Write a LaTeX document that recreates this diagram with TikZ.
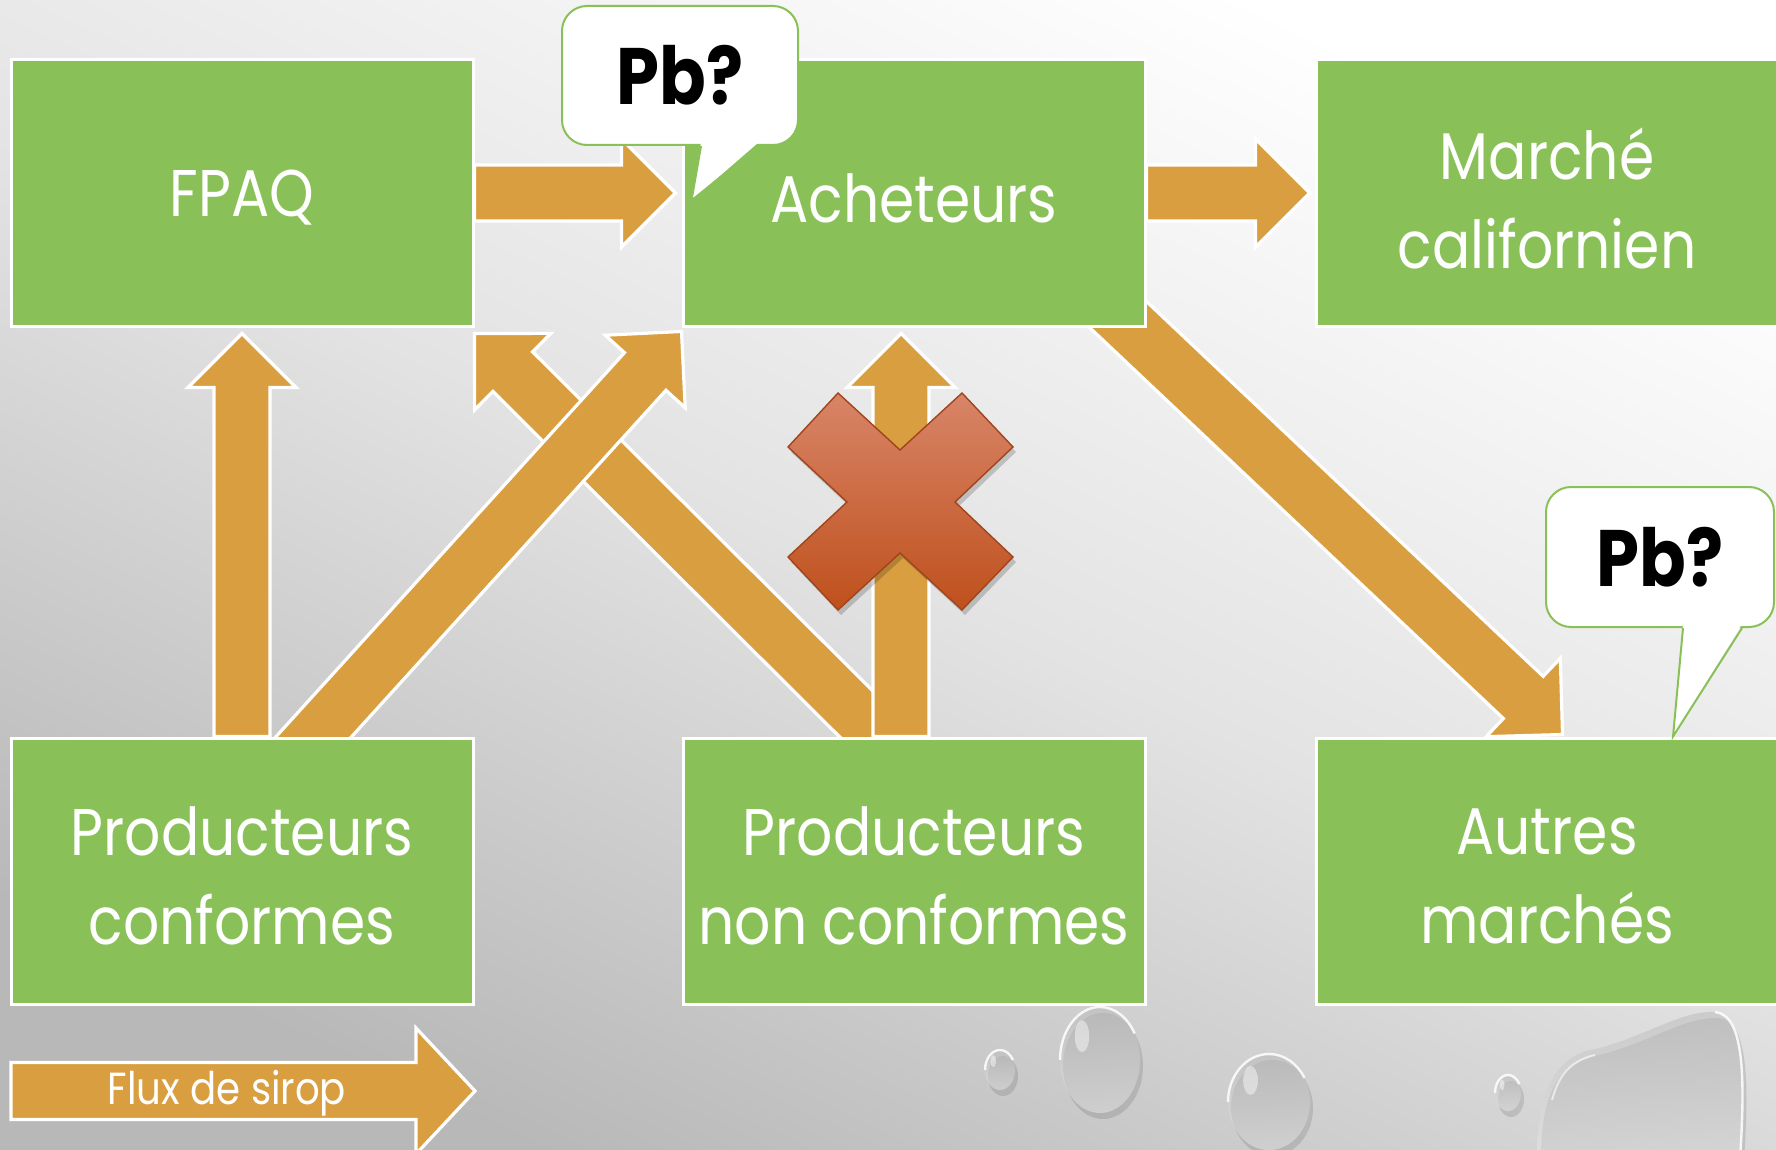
\documentclass[tikz,border=0pt]{standalone}
\usepackage{fontspec}
\setmainfont{Poppins}[FakeStretch=0.86]
\usetikzlibrary{calc}
\pgfdeclarelayer{bg}
\pgfdeclarelayer{arr}
\pgfsetlayers{bg,arr,main}
\definecolor{boxgreen}{RGB}{137,193,88}
\definecolor{flow}{RGB}{217,158,64}
\definecolor{xtop}{RGB}{216,133,104}
\definecolor{xbot}{RGB}{191,80,28}
\definecolor{xline}{RGB}{160,68,28}
\tikzset{
  flowarrow/.style={fill=flow, draw=white, line width=1.6pt, line join=miter},
  boxtext/.style={text=white, align=center, inner sep=0pt, yshift=-2.5pt,
    font=\fontsize{33pt}{44.5pt}\selectfont},
  box/.style={fill=boxgreen, draw=white, line width=1.5pt, minimum width=231pt,
    minimum height=133pt, inner sep=0pt, label={[boxtext]center:#1}},
  bubble/.style={fill=white, draw=boxgreen, line width=1pt, rounded corners=12.5pt,
    inner sep=0pt, font=\fontsize{40pt}{40pt}\selectfont\bfseries, text=black},
  bubtail/.style={draw=boxgreen, line width=1pt, line join=miter},
  dropshadow/.style={fill=black, opacity=0.11},
  dropbody/.style={top color=black!28, bottom color=white!92!black, opacity=0.5},
  droprim/.style={draw=white, line width=1.2pt, opacity=0.85},
}
% tail, tip, shaft half-width, head length, head half-width
\newcommand\blockarr[5]{%
  \coordinate (ba) at ($(#2)!#4!(#1)$);
  \filldraw[flowarrow] ($(#1)!#3!90:(#2)$) -- ($(ba)!#3!90:(#2)$) -- ($(ba)!#5!90:(#2)$)
    -- (#2) -- ($(ba)!#5!-90:(#2)$) -- ($(ba)!#3!-90:(#2)$) -- ($(#1)!#3!-90:(#2)$) -- cycle;
}
\newcommand\waterdrop[3]{% center, x radius, y radius
  \fill[dropshadow] ($(#1)+(3,6)$) ellipse [x radius=#2, y radius=#3];
  \shade[dropbody] (#1) ellipse [x radius=#2, y radius=#3];
  \draw[droprim] ($(#1)+(-#2,0)$) arc [start angle=180, end angle=330, x radius=#2, y radius=#3];
  \fill[white, opacity=0.45] ($(#1)+(-0.45*#2,-0.45*#3)$) ellipse [x radius=0.18*#2, y radius=0.3*#3];
}
\begin{document}
\begin{tikzpicture}[x=0.5pt,y=-0.5pt]
\useasboundingbox (0,0) rectangle (1776,1150);
\begin{pgfonlayer}{bg}
  \shade[top color=white, bottom color=white!72!black, middle color=white!89!black, shading angle=-25]
    (0,0) rectangle (1776,1150);
  \coordinate (d1) at (1000,1070);
  \coordinate (d2) at (1100,1060);
  \coordinate (d3) at (1269,1102);
  \coordinate (d4) at (1508,1093);
  \waterdrop{d1}{15}{20}
  \waterdrop{d2}{40}{53}
  \waterdrop{d3}{41}{48}
  \waterdrop{d4}{13}{18}
  \fill[dropshadow] (1541,1160) .. controls (1541,1100) and (1554,1066) .. (1594,1056)
     .. controls (1644,1046) and (1684,1016) .. (1719,1018) .. controls (1749,1021) and (1749,1086) .. (1744,1160) -- cycle;
  \shade[dropbody] (1537,1160) .. controls (1537,1100) and (1550,1060) .. (1590,1050)
     .. controls (1640,1040) and (1680,1010) .. (1715,1012) .. controls (1745,1015) and (1745,1080) .. (1740,1160) -- cycle;
  \draw[droprim] (1715,1012) .. controls (1745,1015) and (1745,1080) .. (1740,1160);
  \draw[white, opacity=0.6, line width=1pt] (1552,1100) .. controls (1560,1070) and (1575,1060) .. (1595,1055);
\end{pgfonlayer}

% boxes
\node[box={FPAQ}] (fpaq) at (242,193) {};
\node[box={Acheteurs}] (acheteurs) at (914,193) {};
\node[box={Marché\\californien}] (marche) at (1547,193) {};
\node[box={Producteurs\\conformes}] (conf) at (242,871) {};
\node[box={Producteurs\\non conformes}] (nonconf) at (914,871) {};
\node[box={Autres\\marchés}] (autres) at (1547,871) {};

% flows
\coordinate (t4) at ($(nonconf.north)+(-13,22)$);
\coordinate (h4) at ($(fpaq.south east)+(0,6)$);
\coordinate (t5) at ($(conf.north)+(52,22)$);
\coordinate (h5) at ($(acheteurs.south west)+(0,4)$);
\coordinate (t6) at ($(nonconf.north)+(-13,0)$);
\coordinate (h6) at ($(acheteurs.south)+(-13,6)$);
\coordinate (t7) at ($(acheteurs.south east)+(-56,-39)$);
\coordinate (h7) at ($(autres.north west)+(248,-2)$);
\coordinate (h1) at ($(acheteurs.west)+(-6,0)$);
\coordinate (h2) at ($(marche.west)+(-5,0)$);
\coordinate (h3) at ($(fpaq.south)+(0,6)$);
\coordinate (legtail) at (11,1091);
\coordinate (legtip) at (475,1091);
\begin{pgfonlayer}{arr}
  \blockarr{t4}{h4}{14pt}{27pt}{27pt}
  \blockarr{t5}{h5}{14pt}{27pt}{27pt}
  \blockarr{t6}{h6}{14pt}{27pt}{27pt}
  \blockarr{t7}{h7}{14.5pt}{27pt}{27pt}
  \blockarr{fpaq.east}{h1}{14pt}{27pt}{27pt}
  \blockarr{acheteurs.east}{h2}{14pt}{27pt}{27pt}
  \blockarr{conf.north}{h3}{14pt}{27pt}{27pt}
  \blockarr{legtail}{legtip}{14.25pt}{29.5pt}{31.5pt}
\end{pgfonlayer}
\node[text=white, font=\fontsize{22.5pt}{22.5pt}\selectfont] (leg) at (227,1093) {Flux de sirop};

% blocked flow cross
\begin{scope}[shift={(900,502)}]
  \fill[black, opacity=0.18] (-59,-104) -- (3,-47) -- (65,-104) -- (116,-50) -- (58,5) -- (116,60)
    -- (65,113) -- (3,56) -- (-59,113) -- (-109,60) -- (-50,5) -- (-109,-50) -- cycle;
  \shade[top color=xtop, bottom color=xbot, draw=xline, line width=0.7pt]
    (-62,-109) -- (0,-52) -- (62,-109) -- (113,-55) -- (55,0) -- (113,55)
    -- (62,108) -- (0,51) -- (-62,108) -- (-112,55) -- (-53,0) -- (-112,-55) -- cycle;
\end{scope}

% callouts
\node[bubble, minimum width=118pt, minimum height=69.5pt] (bub1) at (680,75.5) {Pb?};
\coordinate (tip1) at ($(acheteurs.north west)+(10,142)$);
\fill[white] ($(bub1.south)+(21,-4)$) -- (tip1) -- ($(bub1.south)+(79,-4)$) -- cycle;
\draw[bubtail] ($(bub1.south)+(21,0)$) -- (tip1) -- ($(bub1.south)+(79,0)$);

\node[bubble, minimum width=114pt, minimum height=70pt] (bub2) at (1660,557) {Pb?};
\coordinate (tip2) at ($(autres.north)+(126,0)$);
\fill[white] ($(bub2.south)+(23,-4)$) -- (tip2) -- ($(bub2.south)+(82,-4)$) -- cycle;
\draw[bubtail] ($(bub2.south)+(23,0)$) -- (tip2) -- ($(bub2.south)+(82,0)$);
\end{tikzpicture}
\end{document}
